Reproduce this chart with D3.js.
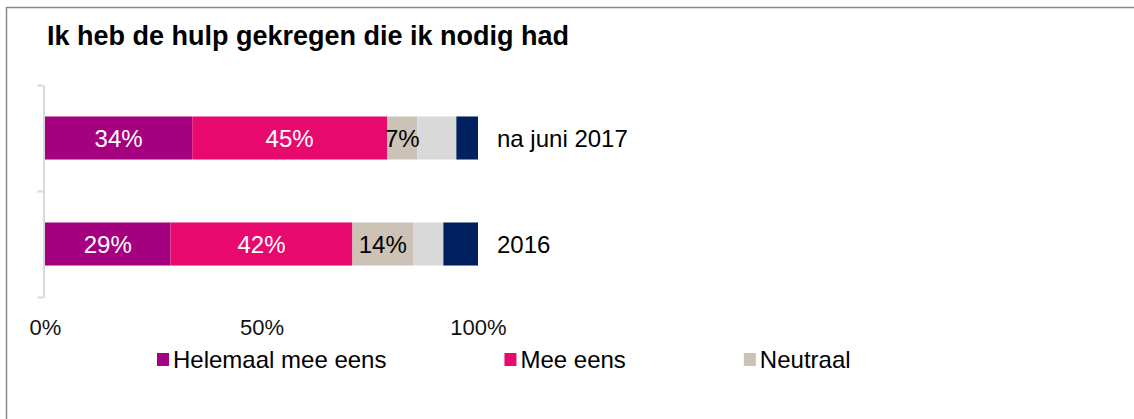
<!DOCTYPE html>
<html>
<head>
<meta charset="utf-8">
<script src="https://cdn.jsdelivr.net/npm/d3@7"></script>
<style>
  html, body { margin: 0; padding: 0; background: #fff; }
  svg { display: block; font-family: "Liberation Sans", Arial, sans-serif; }
</style>
</head>
<body>
<div id="chart"></div>
<script>
// Data
var categories = ["na juni 2017", "2016"];
var series = ["Helemaal mee eens", "Mee eens", "Neutraal", "Oneens", "Helemaal oneens"];
var values = [
  [34, 45, 7, 9, 5],   // na juni 2017
  [29, 42, 14, 7, 8]   // 2016
];
var labelled = ["Helemaal mee eens", "Mee eens", "Neutraal"]; // series with a value label
var legendSeries = ["Helemaal mee eens", "Mee eens", "Neutraal"];
var xTicks = [0, 50, 100];
var title = "Ik heb de hulp gekregen die ik nodig had";

var colors = ["#a5007f", "#e8096f", "#cdc2b6", "#d9d9d9", "#002060"];
var labelColors = ["#fff", "#fff", "#000", "#000", "#fff"];

var width = 1134, height = 419;

var svg = d3.select("#chart")
  .append("svg")
  .attr("width", width)
  .attr("height", height)
  .attr("viewBox", [0, 0, width, height]);

// frame (only top and left edge visible in the crop)
svg.append("rect")
  .attr("x", 6.5).attr("y", 7.5)
  .attr("width", width + 10).attr("height", height + 10)
  .attr("fill", "none")
  .attr("stroke", "#8a8a8a")
  .attr("stroke-width", 1.5);

svg.append("text")
  .attr("x", 47).attr("y", 45)
  .attr("font-size", 27)
  .attr("font-weight", "bold")
  .attr("fill", "#000")
  .text(title);

var x = d3.scaleLinear().domain([0, 100]).range([45, 478]);
var y = d3.scaleBand().domain(categories).range([85, 297])
  .paddingInner(0.594).paddingOuter(0.297);

// stacked rows
var rows = categories.map(function (c, i) {
  var obj = { category: c };
  series.forEach(function (s, j) { obj[s] = values[i][j]; });
  return obj;
});
var stacked = d3.stack().keys(series)(rows);

var layer = svg.append("g")
  .selectAll("g")
  .data(stacked)
  .join("g")
  .attr("fill", function (d, i) { return colors[i]; });

layer.selectAll("rect")
  .data(function (d) { return d; })
  .join("rect")
  .attr("x", function (d) { return x(d[0]); })
  .attr("y", function (d) { return y(d.data.category); })
  .attr("width", function (d) { return x(d[1]) - x(d[0]); })
  .attr("height", y.bandwidth());

// value labels
svg.append("g")
  .selectAll("g")
  .data(stacked.filter(function (s) { return labelled.indexOf(s.key) >= 0; }))
  .join("g")
  .attr("fill", function (d) { return labelColors[d.index]; })
  .selectAll("text")
  .data(function (d) { return d; })
  .join("text")
  .attr("x", function (d) { return x((d[0] + d[1]) / 2); })
  .attr("y", function (d) { return y(d.data.category) + y.bandwidth() / 2; })
  .attr("dy", "0.36em")
  .attr("text-anchor", "middle")
  .attr("font-size", 24)
  .text(function (d) { return (d[1] - d[0]) + "%"; });

// category labels to the right of the bars
svg.append("g")
  .selectAll("text")
  .data(categories)
  .join("text")
  .attr("x", x(100) + 19)
  .attr("y", function (d) { return y(d) + y.bandwidth() / 2; })
  .attr("dy", "0.36em")
  .attr("font-size", 24)
  .attr("fill", "#000")
  .text(function (d) { return d; });

// left axis: line with ticks at the band edges
var yEdge = d3.scaleLinear().domain([0, categories.length]).range([85, 297]);
var gy = svg.append("g")
  .attr("transform", "translate(43.5,0)")
  .call(d3.axisLeft(yEdge).ticks(categories.length).tickSize(6).tickSizeOuter(0).tickFormat(""));
gy.selectAll("path, line").attr("stroke", "#d9d9d9").attr("stroke-width", 2);

// x tick labels (no axis line)
var gx = svg.append("g")
  .attr("transform", "translate(0,316)")
  .call(d3.axisBottom(x).tickValues(xTicks).tickSize(0).tickFormat(function (d) { return d + "%"; }));
gx.select(".domain").remove();
gx.selectAll("text")
  .attr("font-family", "Liberation Sans, Arial, sans-serif")
  .attr("font-size", 22)
  .attr("fill", "#111");

// legend
var legend = svg.append("g");
var lx = 157;
legendSeries.forEach(function (s) {
  var idx = series.indexOf(s);
  var item = legend.append("g").attr("transform", "translate(" + lx + ",0)");
  item.append("rect")
    .attr("x", 0).attr("y", 353)
    .attr("width", 12).attr("height", 13)
    .attr("fill", colors[idx]);
  var t = item.append("text")
    .attr("x", 16).attr("y", 367.5)
    .attr("font-size", 24)
    .attr("fill", "#000")
    .text(s);
  lx += 16 + t.node().getComputedTextLength() + 118;
});
</script>
</body>
</html>
